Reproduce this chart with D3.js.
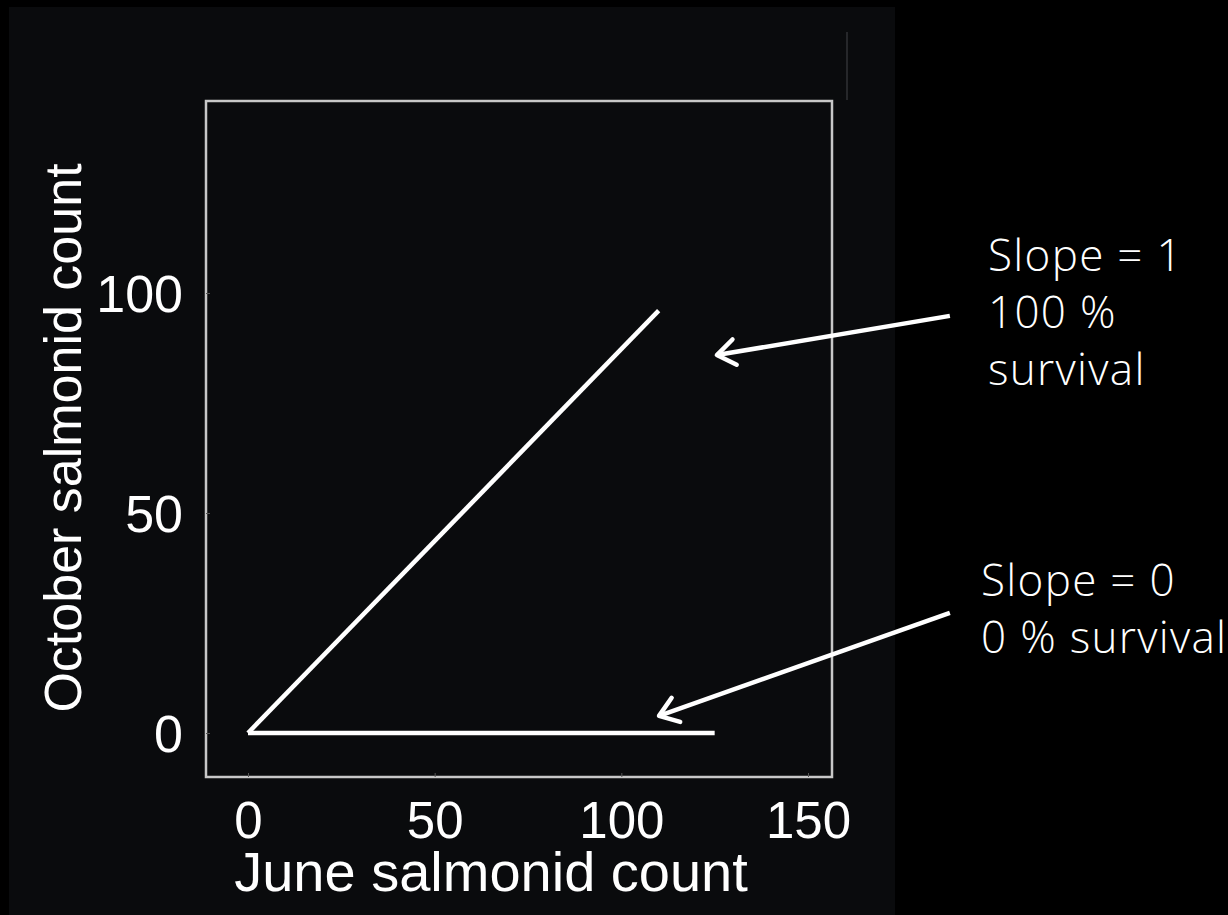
<!DOCTYPE html>
<html>
<head>
<meta charset="utf-8">
<script src="https://cdn.jsdelivr.net/npm/d3@7"></script>
<style>
  html, body { margin: 0; padding: 0; background: #000; }
  svg { display: block; }
</style>
</head>
<body>
<svg id="chart" width="1228" height="915"></svg>
<script>
// ---- data ----
const xTicks = [0, 50, 100, 150];
const yTicks = [0, 50, 100];
const xTitle = "June salmonid count";
const yTitle = "October salmonid count";
// line for 100 % survival (slope = 1) and 0 % survival (slope = 0)
const fullSurvival = [[0, 0], [110, 96]];
const zeroSurvival = [[0, 0], [125, 0]];
// arrows (from, to) in data units
const arrowFull = [[188, 94.8], [125.6, 85.9]];
const arrowZero = [[188, 27.3], [110.1, 3.9]];
const noteFull = ["Slope = 1", "100 %", "survival"];
const noteZero = ["Slope = 0", "0 % survival"];

// ---- layout ----
const svg = d3.select("#chart");
svg.append("rect").attr("x", 0).attr("y", 0).attr("width", 1228).attr("height", 915).attr("fill", "#000");
svg.append("rect").attr("x", 9).attr("y", 7).attr("width", 886).attr("height", 908).attr("fill", "#0a0b0d");
svg.append("line").attr("x1", 847).attr("x2", 847).attr("y1", 32).attr("y2", 100)
  .attr("stroke", "#26272a").attr("stroke-width", 2);

const box = {left: 206, right: 832, top: 101, bottom: 777};
const x = d3.scaleLinear().domain([0, 150]).range([248, 808]);
const y = d3.scaleLinear().domain([0, 100]).range([733, 293]);

const axisFont = "'Liberation Sans', Arial, Helvetica, sans-serif";

// box
svg.append("rect")
  .attr("x", box.left).attr("y", box.top)
  .attr("width", box.right - box.left).attr("height", box.bottom - box.top)
  .attr("fill", "none").attr("stroke", "#c8c8c8").attr("stroke-width", 2.5);

// x axis
const xAxis = d3.axisBottom(x).tickValues(xTicks).tickSize(4).tickPadding(0).tickFormat(d3.format("d"));
const gx = svg.append("g").attr("transform", `translate(0,${box.bottom})`).call(xAxis);
gx.select(".domain").remove();
gx.selectAll(".tick line").attr("stroke", "#555").attr("y2", -4);
gx.selectAll(".tick text")
  .attr("fill", "#fff").attr("font-family", axisFont).attr("font-size", 51)
  .attr("y", 61).attr("dy", 0);

// y axis
const yAxis = d3.axisLeft(y).tickValues(yTicks).tickSize(4).tickPadding(0).tickFormat(d3.format("d"));
const gy = svg.append("g").attr("transform", `translate(${box.left},0)`).call(yAxis);
gy.select(".domain").remove();
gy.selectAll(".tick line").attr("stroke", "#555").attr("x2", 4);
gy.selectAll(".tick text")
  .attr("fill", "#fff").attr("font-family", axisFont).attr("font-size", 52)
  .attr("x", -23).attr("dy", "0.36em");

// titles
svg.append("text").attr("x", 491).attr("y", 891).attr("text-anchor", "middle")
  .attr("fill", "#fff").attr("font-family", axisFont).attr("font-size", 56).text(xTitle);
svg.append("text").attr("transform", "translate(81,438) rotate(-90)").attr("text-anchor", "middle")
  .attr("fill", "#fff").attr("font-family", axisFont).attr("font-size", 52).text(yTitle);

// lines
const line = d3.line().x(d => x(d[0])).y(d => y(d[1]));
[fullSurvival, zeroSurvival].forEach(ln => {
  svg.append("path").attr("d", line(ln)).attr("fill", "none")
    .attr("stroke", "#fff").attr("stroke-width", 4.5);
});

// arrows
function arrow(a) {
  const x1 = x(a[0][0]), y1 = y(a[0][1]), x2 = x(a[1][0]), y2 = y(a[1][1]);
  const ang = Math.atan2(y1 - y2, x1 - x2);
  const L = 22, spread = 0.62;
  svg.append("line").attr("x1", x1).attr("y1", y1).attr("x2", x2).attr("y2", y2)
    .attr("stroke", "#fff").attr("stroke-width", 4.5);
  const p = d3.path();
  p.moveTo(x2 + L * Math.cos(ang + spread), y2 + L * Math.sin(ang + spread));
  p.lineTo(x2, y2);
  p.lineTo(x2 + L * Math.cos(ang - spread), y2 + L * Math.sin(ang - spread));
  svg.append("path").attr("d", p.toString()).attr("fill", "none")
    .attr("stroke", "#fff").attr("stroke-width", 4.5)
    .attr("stroke-linecap", "round").attr("stroke-linejoin", "round");
}
arrow(arrowFull);
arrow(arrowZero);

// annotation text
const noteFont = "'Open Sans', 'Helvetica Neue', 'Liberation Sans', sans-serif";
function note(lines, x0, y0) {
  const t = svg.append("text").attr("fill", "#fff").attr("font-family", noteFont)
    .attr("font-weight", 300).attr("font-size", 44).attr("letter-spacing", 1.3);
  lines.forEach((s, i) => t.append("tspan").attr("x", x0).attr("y", y0 + i * 57).text(s));
}
note(noteFull, 988, 271);
note(noteZero, 981, 596);
</script>
</body>
</html>
